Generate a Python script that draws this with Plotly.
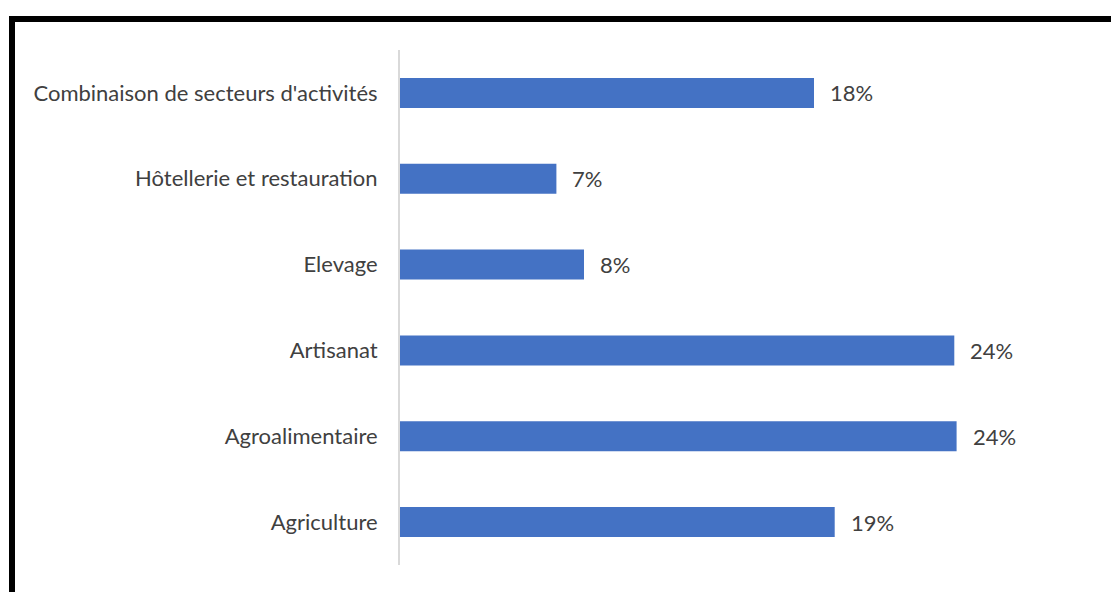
import plotly.graph_objects as go

# Sectors listed top to bottom, with their shares
categories = [
    "Combinaison de secteurs d'activités",
    "Hôtellerie et restauration",
    "Elevage",
    "Artisanat",
    "Agroalimentaire",
    "Agriculture",
]
shares = [0.180, 0.068, 0.080, 0.241, 0.242, 0.189]

BAR_COLOR = "#4472C4"
TEXT_COLOR = "#404040"
FONT = "Lato"
FONT_SIZE = 22

W, H = 1111, 592
L, R, T, B = 400, 1090, 50, 565  # plot area in pixels


def px_x(px):
    return (px - L) / (R - L)


def px_y(py):
    return (B - py) / (B - T)


fig = go.Figure(
    go.Bar(
        x=shares,
        y=categories,
        orientation="h",
        marker=dict(color=BAR_COLOR, line=dict(width=0)),
        hoverinfo="skip",
    )
)

# Percentage labels just past the end of each bar
for cat, v in zip(categories, shares):
    fig.add_annotation(
        x=v, y=cat, text=f"{v:.0%}", showarrow=False,
        xanchor="left", yanchor="middle", xshift=14,
        font=dict(family=FONT, size=FONT_SIZE, color=TEXT_COLOR),
    )

# Frame around the chart (only top and left edges fall inside the page)
fig.add_shape(
    type="rect", xref="paper", yref="paper",
    x0=px_x(12), x1=px_x(W + 20), y0=px_y(19), y1=px_y(H + 20),
    line=dict(color="black", width=6), fillcolor="rgba(0,0,0,0)",
    layer="above",
)

fig.update_layout(
    width=W, height=H,
    margin=dict(l=L, r=W - R, t=T, b=H - B, pad=0),
    paper_bgcolor="white", plot_bgcolor="white",
    bargap=0.65,
    showlegend=False,
    font=dict(family=FONT, size=FONT_SIZE, color=TEXT_COLOR),
    xaxis=dict(range=[0, 0.30], visible=False, fixedrange=True),
    yaxis=dict(
        autorange="reversed",
        showline=True, linecolor="#d9d9d9", linewidth=2,
        ticks="", showgrid=False, zeroline=False,
        ticklabelstandoff=16,
        tickfont=dict(family=FONT, size=FONT_SIZE, color=TEXT_COLOR),
        fixedrange=True,
    ),
)

fig.write_html("out.html")
